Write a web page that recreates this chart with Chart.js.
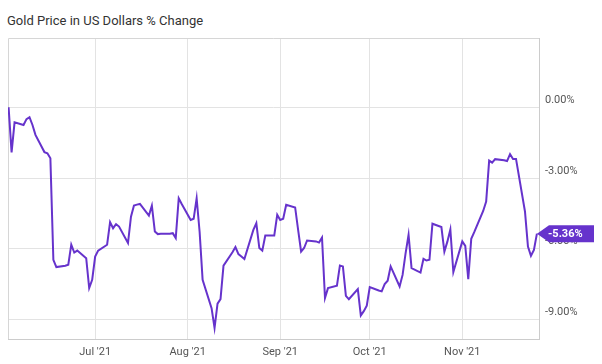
<!DOCTYPE html>
<html>
<head>
<meta charset="utf-8">
<script src="https://cdn.jsdelivr.net/npm/chart.js@4"></script>
<style>
  body { margin: 0; background: #fff; }
  #wrap { position: relative; width: 602px; height: 364px; }
  #title { position: absolute; left: 7px; top: 13px; font: 13px Roboto, sans-serif; color: #333; }
  canvas { position: absolute; left: 0; top: 0; }
</style>
</head>
<body>
<div id="wrap">
  <div id="title">Gold Price in US Dollars % Change</div>
  <canvas id="c" width="602" height="364"></canvas>
</div>
<script>
// trading days and % change of gold price since Jun 2 2021
const dates = [
  "2021-06-02","2021-06-03","2021-06-04","2021-06-07","2021-06-08","2021-06-09","2021-06-10","2021-06-11",
  "2021-06-14","2021-06-15","2021-06-16","2021-06-17","2021-06-18","2021-06-21","2021-06-22","2021-06-23",
  "2021-06-24","2021-06-25","2021-06-28","2021-06-29","2021-06-30","2021-07-01","2021-07-02","2021-07-05",
  "2021-07-06","2021-07-07","2021-07-08","2021-07-09","2021-07-12","2021-07-13","2021-07-14","2021-07-15",
  "2021-07-16","2021-07-19","2021-07-20","2021-07-21","2021-07-22","2021-07-23","2021-07-26","2021-07-27",
  "2021-07-28","2021-07-29","2021-07-30","2021-08-02","2021-08-03","2021-08-04","2021-08-05","2021-08-06",
  "2021-08-09","2021-08-10","2021-08-11","2021-08-12","2021-08-13","2021-08-16","2021-08-17","2021-08-18",
  "2021-08-19","2021-08-20","2021-08-23","2021-08-24","2021-08-25","2021-08-26","2021-08-27","2021-08-30",
  "2021-08-31","2021-09-01","2021-09-02","2021-09-03","2021-09-06","2021-09-07","2021-09-08","2021-09-09",
  "2021-09-10","2021-09-13","2021-09-14","2021-09-15","2021-09-16","2021-09-17","2021-09-20","2021-09-21",
  "2021-09-22","2021-09-23","2021-09-24","2021-09-27","2021-09-28","2021-09-29","2021-09-30","2021-10-01",
  "2021-10-04","2021-10-05","2021-10-06","2021-10-07","2021-10-08","2021-10-11","2021-10-12","2021-10-13",
  "2021-10-14","2021-10-15","2021-10-18","2021-10-19","2021-10-20","2021-10-21","2021-10-22","2021-10-25",
  "2021-10-26","2021-10-27","2021-10-28","2021-10-29","2021-11-01","2021-11-02","2021-11-03","2021-11-04",
  "2021-11-05","2021-11-08","2021-11-09","2021-11-10","2021-11-11","2021-11-12","2021-11-15","2021-11-16",
  "2021-11-17","2021-11-18","2021-11-19","2021-11-22","2021-11-23","2021-11-24","2021-11-25","2021-11-26"
];
const changes = [
  0.00, -1.91, -0.64, -0.75, -0.50, -0.42, -0.75, -1.17,
  -1.90, -1.95, -2.16, -6.47, -6.78, -6.72, -6.68, -5.83,
  -6.16, -6.08, -6.40, -7.67, -7.32, -6.33, -6.08, -5.83,
  -4.87, -5.13, -4.96, -5.06, -5.76, -4.64, -4.17, -4.13,
  -4.10, -4.59, -4.17, -5.27, -5.38, -5.37, -5.36, -5.34,
  -5.55, -3.86, -4.10, -4.78, -4.73, -3.86, -5.29, -7.32,
  -8.52, -9.36, -8.33, -8.14, -6.72, -6.15, -5.93, -6.23,
  -6.33, -6.44, -5.20, -4.92, -5.97, -6.08, -5.44, -5.44,
  -4.56, -4.78, -4.73, -4.14, -4.25, -5.20, -6.12, -5.97,
  -5.65, -5.69, -5.74, -5.53, -8.09, -7.67, -7.57, -6.71,
  -6.75, -8.00, -8.14, -7.71, -8.83, -8.65, -8.42, -7.63,
  -7.77, -7.81, -7.50, -7.36, -6.75, -7.60, -7.11, -6.20,
  -5.41, -6.82, -7.01, -6.43, -6.50, -6.47, -4.94, -5.08,
  -6.12, -5.70, -5.18, -6.99, -5.69, -5.88, -7.29, -5.58,
  -5.30, -4.40, -4.00, -2.26, -2.35, -2.20, -2.25, -2.28,
  -1.99, -2.19, -2.19, -4.42, -5.91, -6.30, -6.05, -5.36
];
const xTickDates = ["2021-07-01", "2021-08-01", "2021-09-01", "2021-10-01", "2021-11-01"];
const xTickLabels = ["Jul '21", "Aug '21", "Sep '21", "Oct '21", "Nov '21"];
const yTicks = [-9, -6, -3, 0];

const lineColor = "#6633cc";
const DAY = 86400000;
const base = Date.UTC(2021, 6, 1);
function dayNum(s) {
  const p = s.split("-").map(Number);
  return (Date.UTC(p[0], p[1] - 1, p[2]) - base) / DAY;
}

const points = dates.map((d, i) => ({ x: dayNum(d), y: changes[i] }));

const framePlugin = {
  id: "frame",
  beforeDatasetsDraw(chart) {
    const { ctx, chartArea: a } = chart;
    ctx.save();
    ctx.strokeStyle = "#d6d6d6";
    ctx.lineWidth = 1;
    ctx.beginPath();
    ctx.moveTo(a.left + 0.5, a.bottom);
    ctx.lineTo(a.left + 0.5, a.top + 0.5);
    ctx.lineTo(a.right, a.top + 0.5);
    ctx.stroke();
    ctx.restore();
  }
};

const lastLabel = {
  id: "lastLabel",
  afterDraw(chart) {
    const { ctx, chartArea: a } = chart;
    const v = changes[changes.length - 1];
    const y = chart.scales.y.getPixelForValue(v);
    const x0 = a.right - 2, x1 = a.right + 2, x2 = 594, h = 17;
    ctx.save();
    ctx.fillStyle = lineColor;
    ctx.beginPath();
    ctx.moveTo(x0, y);
    ctx.lineTo(x1 + 8, y - h / 2);
    ctx.lineTo(x2, y - h / 2);
    ctx.lineTo(x2, y + h / 2);
    ctx.lineTo(x1 + 8, y + h / 2);
    ctx.closePath();
    ctx.fill();
    ctx.fillStyle = "#fff";
    ctx.font = "bold 11px Roboto, sans-serif";
    ctx.textBaseline = "middle";
    ctx.textAlign = "left";
    ctx.fillText(v.toFixed(2) + "%", 548, y + 0.5);
    ctx.restore();
  }
};

new Chart(document.getElementById("c"), {
  type: "line",
  data: {
    datasets: [{
      data: points,
      borderColor: lineColor,
      borderWidth: 2,
      pointRadius: 0,
      tension: 0,
      fill: false
    }]
  },
  options: {
    responsive: false,
    animation: false,
    layout: { padding: { left: 8, top: 38, right: 0, bottom: 0 } },
    plugins: { legend: { display: false }, tooltip: { enabled: false } },
    scales: {
      x: {
        type: "linear",
        min: -29.2,
        max: 148.7,
        afterBuildTicks: s => { s.ticks = xTickDates.map(d => ({ value: dayNum(d) })); },
        afterFit: s => { s.height = 25; },
        grid: { color: "#e3e3e3", drawTicks: false },
        border: { color: "#cccccc" },
        ticks: {
          autoSkip: false,
          maxRotation: 0,
          padding: 7,
          color: "#555",
          font: { family: "Roboto", size: 11 },
          callback: (v, i) => xTickLabels[i]
        }
      },
      y: {
        position: "right",
        min: -9.83,
        max: 2.94,
        afterBuildTicks: s => { s.ticks = yTicks.map(v => ({ value: v })); },
        afterFit: s => { s.width = 63; },
        grid: { color: "#e3e3e3", drawTicks: false },
        border: { color: "#cccccc" },
        ticks: {
          padding: 6,
          labelOffset: -7,
          color: "#555",
          font: { family: "Roboto", size: 11 },
          callback: v => v.toFixed(2) + "%"
        }
      }
    }
  },
  plugins: [framePlugin, lastLabel]
});
</script>
</body>
</html>
